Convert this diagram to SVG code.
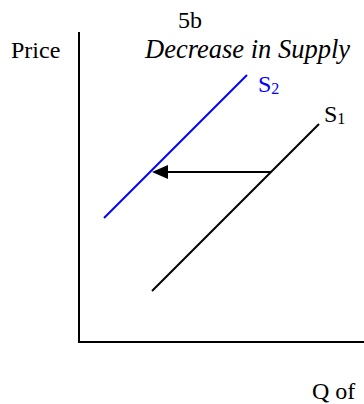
<svg xmlns="http://www.w3.org/2000/svg" width="364" height="404" viewBox="0 0 364 404">
<style>
text{font-family:"Liberation Serif","Times New Roman",serif;font-size:24px;fill:#000}
.it{font-style:italic;font-size:26.5px}
.blue{fill:#0000ff}
.sub{font-size:16px}
.ax{stroke:#000;stroke-width:2;fill:none}
.s1{stroke:#000;stroke-width:2;fill:none}
.s2{stroke:#0000ff;stroke-width:2;fill:none}
</style>
<g id="axes">
<polyline class="ax" points="79,32 79,342 364,342"/>
</g>
<g id="labels">
<text x="11" y="58">Price</text>
<text x="178" y="28">5b</text>
<text class="it" x="145" y="58">Decrease in Supply</text>
<text x="312" y="399">Q of</text>
</g>
<g id="S2">
<line class="s2" x1="104" y1="218" x2="247" y2="75"/>
<text class="blue" x="258" y="92">S<tspan class="sub" dy="2">2</tspan></text>
</g>
<g id="S1">
<line class="s1" x1="152" y1="291" x2="319" y2="124"/>
<text x="324" y="122">S<tspan class="sub" dy="2">1</tspan></text>
</g>
<g id="connectors">
<line x1="271" y1="172" x2="166" y2="172" stroke="#000" stroke-width="2"/>
<path d="M152,172 L168,165 L168,179 Z" fill="#000"/>
</g>
</svg>
